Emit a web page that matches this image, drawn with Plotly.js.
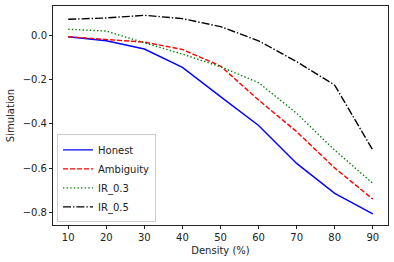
<!DOCTYPE html>
<html><head><meta charset="utf-8">
<script src="https://cdn.plot.ly/plotly-3.0.1.min.js"></script>
<style>html,body{margin:0;padding:0;background:#fff}#c{width:394px;height:262px}</style>
</head><body><div id="c"></div>
<script>
const density = [10, 20, 30, 40, 50, 60, 70, 80, 90];
const honest = [-0.008, -0.026, -0.063, -0.146, -0.278, -0.408, -0.579, -0.714, -0.807];
const ambiguity = [-0.008, -0.02, -0.032, -0.065, -0.14, -0.293, -0.436, -0.600, -0.740];
const ir03 = [0.026, 0.018, -0.035, -0.086, -0.143, -0.215, -0.353, -0.519, -0.669];
const ir05 = [0.071, 0.077, 0.089, 0.074, 0.038, -0.026, -0.120, -0.226, -0.519];
const names = ["Honest", "Ambiguity", "IR_0.3", "IR_0.5"];
const yTicks = [0.0, -0.2, -0.4, -0.6, -0.8];
const yTickText = ["0.0", "\u22120.2", "\u22120.4", "\u22120.6", "\u22120.8"];

const styles = [
  {color: "blue", dash: "solid"},
  {color: "red", dash: "5px,2px"},
  {color: "green", dash: "1.4px,2.2px"},
  {color: "black", dash: "8px,2px,1.4px,2px"}
];
const series = [honest, ambiguity, ir03, ir05];
const data = series.map((s, i) => ({
  x: density, y: s, type: "scatter", mode: "lines", name: names[i],
  line: {color: styles[i].color, dash: styles[i].dash, width: 1.4}
}));
const font = {family: "DejaVu Sans", size: 10, color: "#222"};
const layout = {
  width: 394, height: 262,
  margin: {l: 53, r: 6, t: 6, b: 37},
  paper_bgcolor: "#fff", plot_bgcolor: "#fff",
  font: font,
  showlegend: true,
  legend: {x: 0.012, y: 0.012, xanchor: "left", yanchor: "bottom",
    bgcolor: "rgba(255,255,255,0.8)", bordercolor: "#ccc", borderwidth: 1,
    font: {family: "DejaVu Sans", size: 10, color: "#222"}, tracegroupgap: 0, itemwidth: 30},
  xaxis: {range: [6, 94], tickvals: density, ticks: "outside", ticklen: 3, tickcolor: "#222",
    showline: true, linecolor: "#222", linewidth: 1, mirror: true, showgrid: false, zeroline: false,
    title: {text: "Density (%)", font: font, standoff: 4}},
  yaxis: {range: [-0.857, 0.131], tickvals: yTicks, ticktext: yTickText, ticks: "outside", ticklen: 3, tickcolor: "#222",
    showline: true, linecolor: "#222", linewidth: 1, mirror: true, showgrid: false, zeroline: false,
    title: {text: "Simulation", font: font, standoff: 6}}
};
Plotly.newPlot("c", data, layout, {displayModeBar: false, staticPlot: true});
</script></body></html>
